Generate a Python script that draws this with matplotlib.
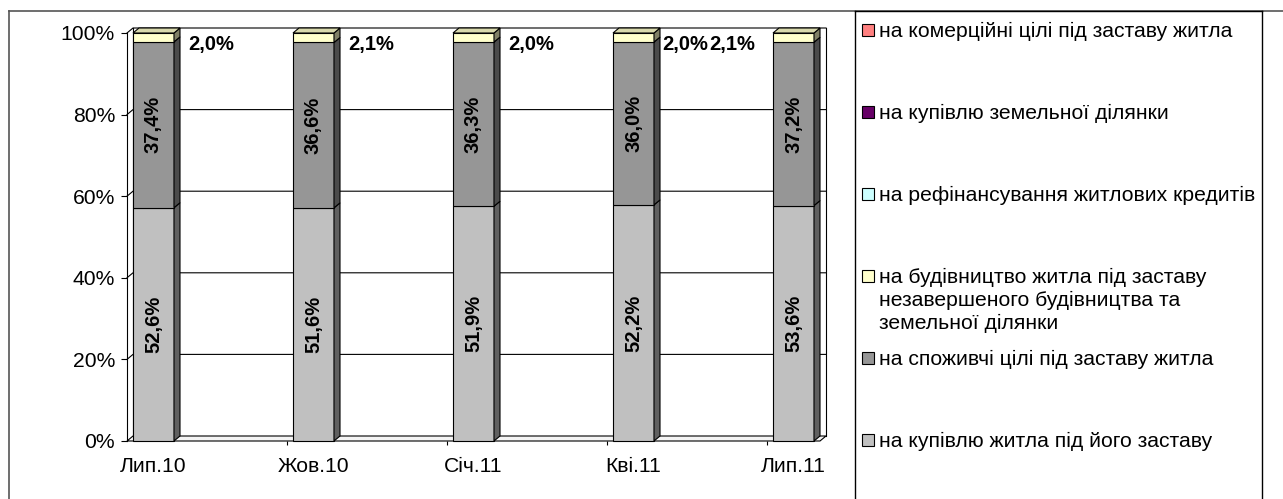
import matplotlib
matplotlib.use("Agg")
import matplotlib.pyplot as plt
from matplotlib.patches import Polygon, Rectangle
from matplotlib.lines import Line2D
import numpy as np

plt.rcParams['font.family'] = ['Liberation Sans', 'DejaVu Sans']

# ---- data -------------------------------------------------------------
categories = ['Лип.10', 'Жов.10', 'Січ.11', 'Кві.11', 'Лип.11']

# series, bottom of the stack first
purchase = [52.6, 51.6, 51.9, 52.2, 53.6]
consumer = [37.4, 36.6, 36.3, 36.0, 37.2]
construction = [2.0, 2.1, 2.0, 2.0, 2.1]
refinancing = [0.0, 0.0, 0.0, 0.0, 0.0]
land = [0.0, 0.0, 0.0, 0.0, 0.0]
commercial = [0.0, 0.0, 0.0, 0.0, 0.0]

series_names = [
    'на купівлю житла під його заставу',
    'на споживчі цілі під заставу житла',
    'на будівництво житла під заставу\nнезавершеного будівництва та\nземельної ділянки',
    'на рефінансування житлових кредитів',
    'на купівлю земельної ділянки',
    'на комерційні цілі під заставу житла',
]
series_colors = ['#C0C0C0', '#969696', '#FFFFCC', '#CCFFFF', '#660066', '#FF8080']
y_ticks = [0, 20, 40, 60, 80, 100]

# ---- figure -----------------------------------------------------------
W, H = 1283, 499
fig = plt.figure(figsize=(W / 100, H / 100), dpi=100)


def fx(px):
    return px / W


def fy(py):
    return 1 - py / H


FS = 15.2      # axis and legend text
FS_LBL = 14.5  # bold value labels
ax = fig.add_axes([fx(127), fy(441), (820 - 127) / W, (441 - 33) / H])
xl, xr = -0.1656, 4.1656
ax.set_xlim(xl, xr)
ax.set_ylim(0, 100)

# depth of the 3-D walls and bars, converted from pixels to data units
p0 = ax.transData.transform((0, 0))
p1 = ax.transData.transform((1, 1))
dx = 6 / (p1[0] - p0[0])
dy = 5 / (p1[1] - p0[1])

# floor, back wall and gridlines
ax.add_patch(Polygon([(xl, 0), (xr, 0), (xr + dx, dy), (xl + dx, dy)],
                     closed=True, fc='#F4F4F4', ec='black', lw=0.8,
                     zorder=1, clip_on=False))
for t in y_ticks[1:]:
    ax.plot([xl, xl + dx, xr + dx], [t, t + dy, t + dy], color='black',
            lw=0.8, zorder=1, clip_on=False)
ax.plot([xl + dx, xl + dx], [dy, 100 + dy], color='black', lw=0.8,
        zorder=1, clip_on=False)
ax.plot([xr + dx, xr + dx], [dy, 100 + dy], color='black', lw=0.8,
        zorder=1, clip_on=False)


def shade(color, k):
    c = np.array(matplotlib.colors.to_rgb(color))
    return tuple(c * k)


series = [purchase, consumer, construction, refinancing, land, commercial]
values = np.array(series, dtype=float)
totals = values.sum(axis=0)
shares = values / totals * 100

x = np.arange(len(categories))
bw = 41 / (p1[0] - p0[0])
bottoms = np.zeros(len(categories))
top_index = [max(i for i in range(len(series)) if values[i, j] > 0)
             for j in range(len(categories))]
last = len(categories) - 1

for i, (vals, col) in enumerate(zip(values, series_colors)):
    for j in range(len(categories)):
        h = shares[i, j]
        if h <= 0:
            continue
        y0 = bottoms[j]
        z = 3 + i * 0.1
        ax.bar(x[j], h, bottom=y0, width=bw, color=col, edgecolor='black',
               lw=0.8, zorder=z, clip_on=False)
        xe = x[j] + bw / 2
        ax.add_patch(Polygon([(xe, y0), (xe + dx, y0 + dy),
                              (xe + dx, y0 + h + dy), (xe, y0 + h)],
                             closed=True, fc=shade(col, 0.5), ec='black',
                             lw=0.8, zorder=z, clip_on=False))
        if i == top_index[j]:
            xs = x[j] - bw / 2
            yt = y0 + h
            ax.add_patch(Polygon([(xs, yt), (xe, yt), (xe + dx, yt + dy),
                                  (xs + dx, yt + dy)],
                                 closed=True, fc=shade(col, 0.85), ec='black',
                                 lw=0.8, zorder=z, clip_on=False))
        label = f'{vals[j]:.1f}%'.replace('.', ',')
        if i < 2:
            ax.text(x[j], y0 + h / 2, label, rotation=90, ha='center',
                    va='center', fontsize=FS_LBL, fontweight='bold', zorder=6)
        elif j == last:
            # no room on the right of the last bar: label goes to its left
            ax.annotate(label, (x[j] - bw / 2, y0 + h / 2),
                        xytext=(-18, -7), textcoords='offset pixels',
                        ha='right', va='center', fontsize=FS_LBL,
                        fontweight='bold', zorder=6)
        else:
            gap = 8 if j == last - 1 else 14
            ax.annotate(label, (x[j] + bw / 2, y0 + h / 2),
                        xytext=(gap, -7), textcoords='offset pixels',
                        ha='left', va='center', fontsize=FS_LBL,
                        fontweight='bold', zorder=6)
    bottoms += shares[i]

# axes, ticks and labels
for s in ('top', 'right', 'bottom'):
    ax.spines[s].set_visible(False)
ax.spines['left'].set_color('black')
ax.spines['left'].set_linewidth(0.8)
ax.spines['left'].set_zorder(2)
ax.set_yticks(y_ticks)
ax.set_yticklabels([f'{t}%' for t in y_ticks])
ax.tick_params(axis='y', direction='out', length=4.3, width=0.8, pad=4.3,
               labelsize=FS, colors='black')
ax.set_xticks(x)
ax.set_xticklabels(categories)
ax.set_xticks([xl + k for k in range(1, len(categories))], minor=True)
ax.tick_params(axis='x', which='major', length=0, pad=11.5, labelsize=FS)
ax.tick_params(axis='x', which='minor', direction='out', length=3,
               width=0.8, colors='black')

# chart frame and legend box
fig.add_artist(Line2D([fx(9), fx(9)], [fy(11), 0], color='#555555', lw=1.2))
fig.add_artist(Line2D([fx(9), 1], [fy(11), fy(11)], color='#555555', lw=1.2))
fig.add_artist(Line2D([fx(855), fx(855)], [fy(11), 0], color='black', lw=1))
fig.add_artist(Line2D([fx(1262), fx(1262)], [fy(11), 0], color='black', lw=1))
fig.add_artist(Line2D([fx(855), fx(1262)], [fy(11), fy(11)], color='black',
                      lw=1))

# legend, top entry = top of the stack
legend_rows = [30, 112, 194, 276, 358, 440]
for name, col, yc in zip(series_names[::-1], series_colors[::-1], legend_rows):
    fig.add_artist(Rectangle((fx(862), fy(yc + 6)), 12 / W, 12 / H,
                             fc=col, ec='black', lw=0.8))
    if '\n' in name:
        fig.text(fx(879), fy(yc - 8), name, ha='left', va='top',
                 fontsize=FS, linespacing=1.27)
    else:
        fig.text(fx(879), fy(yc + 1), name, ha='left', va='center',
                 fontsize=FS)

fig.savefig('out.png', dpi=100)
